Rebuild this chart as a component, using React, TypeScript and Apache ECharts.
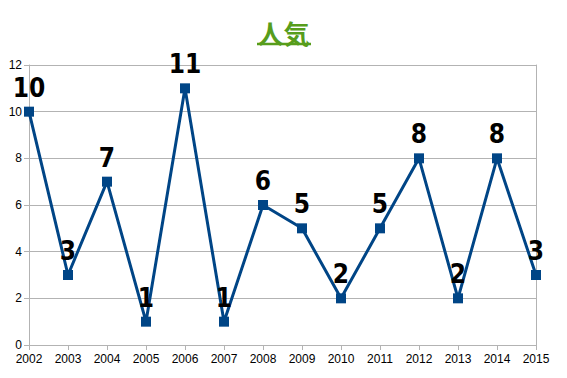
import React, { useEffect, useRef } from "react";
import * as echarts from "echarts";

const years = ["2002","2003","2004","2005","2006","2007","2008","2009","2010","2011","2012","2013","2014","2015"];
const values = [10, 3, 7, 1, 11, 1, 6, 5, 2, 5, 8, 2, 8, 3];
const titleText = "人気";

export default function App() {
  const ref = useRef<HTMLDivElement>(null);
  useEffect(() => {
    const chart = echarts.init(ref.current!, null, { renderer: "svg" });
    const grey = "#b3b3b3";
    chart.setOption({
      animation: false,
      backgroundColor: "#ffffff",
      title: {
        text: titleText,
        left: "center",
        top: 14,
        textStyle: { color: "#579d1c", fontSize: 26, fontWeight: "bold", fontFamily: "Noto Sans CJK JP" },
      },
      graphic: [
        { type: "line", shape: { x1: 257, y1: 44, x2: 311, y2: 44 }, style: { stroke: "#579d1c", lineWidth: 2.5 } },
      ],
      grid: { left: 29, right: 31, top: 65, bottom: 33, containLabel: false },
      xAxis: {
        type: "category",
        data: years,
        boundaryGap: false,
        axisLine: { lineStyle: { color: grey } },
        axisTick: { show: true, length: 5, interval: 0, lineStyle: { color: grey } },
        axisLabel: { color: "#000", fontSize: 12, fontFamily: "Liberation Sans", margin: 8, interval: 0 },
        splitLine: { show: false },
      },
      yAxis: [
        {
          type: "value",
          min: 0,
          max: 12,
          interval: 2,
          axisLine: { show: true, lineStyle: { color: grey } },
          axisTick: { show: true, length: 5, lineStyle: { color: grey } },
          axisLabel: { color: "#000", fontSize: 12, fontFamily: "Liberation Sans", margin: 7 },
          splitLine: { show: true, lineStyle: { color: grey } },
        },
        {
          type: "value",
          min: 0,
          max: 12,
          interval: 2,
          position: "right",
          axisLine: { show: true, lineStyle: { color: grey } },
          axisTick: { show: false },
          axisLabel: { show: false },
          splitLine: { show: false },
        },
      ],
      series: [
        {
          type: "line",
          data: values,
          symbol: "rect",
          symbolSize: 10,
          itemStyle: { color: "#004586" },
          lineStyle: { color: "#004586", width: 3 },
          label: {
            show: true,
            position: "top",
            distance: 6,
            color: "#000",
            fontSize: 26,
            fontWeight: "bold",
            fontFamily: "DejaVu Sans Condensed",
          },
        },
      ],
    });
    return () => chart.dispose();
  }, []);
  return <div ref={ref} style={{ width: 567, height: 378, position: "absolute", left: 0, top: 0 }} />;
}
